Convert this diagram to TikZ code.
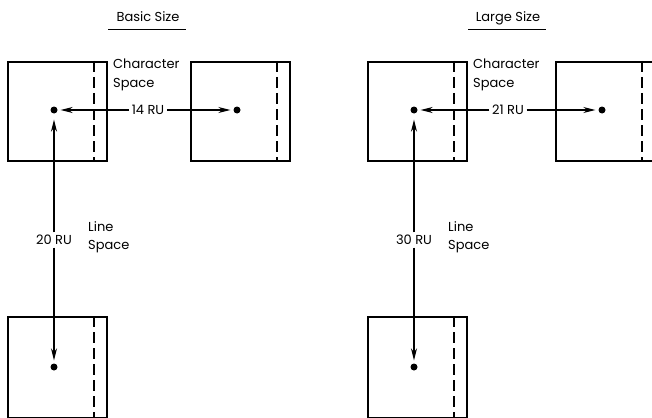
\documentclass[tikz,border=0pt]{standalone}
\usepackage{fontspec}
\setmainfont{Poppins}
\usetikzlibrary{positioning, arrows.meta}

\tikzset{
    spacebox/.style={draw, line width=1.6pt, minimum width=99pt, minimum height=99pt, inner sep=0pt, anchor=north west},
    escline/.style={line width=2pt, dash pattern=on 11pt off 5pt},
    refdot/.style={circle, fill=black, inner sep=0pt, minimum size=7pt},
    rulabel/.style={font=\fontsize{13}{15}\selectfont, inner sep=2.5pt},
    note/.style={font=\fontsize{13}{18.5}\selectfont, align=left, inner sep=0pt, anchor=north west},
    ruarrow/.style={line width=1.1pt, -{Stealth[length=12pt, width=6pt]}}
}

\begin{document}
\begin{tikzpicture}[x=1pt, y=-1pt]
    \useasboundingbox (0,0) rectangle (652,417);
    \foreach \g/\gx/\hd/\ttl/\hru/\vru in {B/0/183/Basic Size/14 RU/20 RU, L/360/188/Large Size/21 RU/30 RU}
    {
        \begin{scope}[shift={(\gx,0)}]
            % heading
            \node[rulabel, anchor=base] (\g-title) at (148,21.5) {\ttl};
            \draw[line width=0.9pt] (108,29) -- (186,29);
            % character cells
            \node[spacebox] (\g-top) at (7,61) {};
            \node[spacebox] (\g-next) at (7+\hd,61) {};
            \node[spacebox, minimum height=101pt] (\g-low) at (7,316) {};
            \foreach \b in {top,next,low}
            {
                \draw[escline] ([xshift=-14pt]\g-\b.north east) -- ([xshift=-14pt]\g-\b.south east);
            }
            \node[refdot] (\g-here) at (54,110) {};
            \node[refdot] (\g-there) at (54+\hd,110) {};
            \node[refdot] (\g-below) at (54,367) {};
            % spacing
            \node[rulabel] (\g-hsp) at (148,110) {\hru};
            \node[rulabel] (\g-vsp) at (54,240) {\vru};
            \draw[ruarrow, shorten >=3pt] (\g-hsp) -- (\g-here);
            \draw[ruarrow, shorten >=3pt] (\g-hsp) -- (\g-there);
            \draw[ruarrow, shorten >=6pt] (\g-vsp) -- (\g-here);
            \draw[ruarrow, shorten >=3pt] (\g-vsp) -- (\g-below);
            \node[note] (\g-cs) at (113,59) {Character\\Space};
            \node[note] (\g-ls) at (88,221) {Line\\Space};
        \end{scope}
    }
\end{tikzpicture}
\end{document}
